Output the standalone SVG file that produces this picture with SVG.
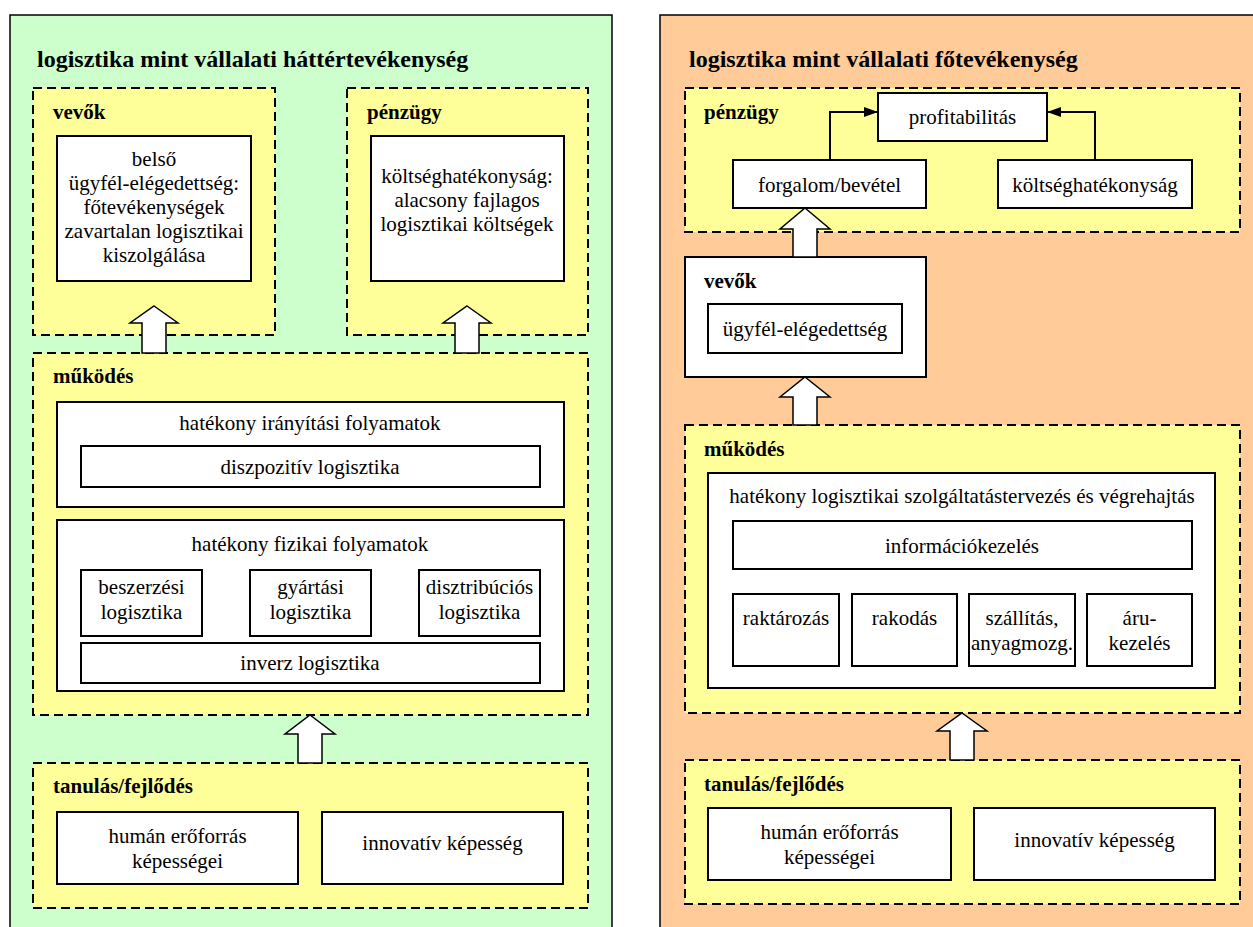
<svg xmlns="http://www.w3.org/2000/svg" width="1253" height="927" viewBox="0 0 1253 927" font-family="'Liberation Serif','Times New Roman',serif">
<style>
text{font-family:"Liberation Serif","Times New Roman",serif;font-size:21px;fill:#000}
.t{font-weight:bold;font-size:24px}
.h{font-weight:bold;font-size:21px}
.c{text-anchor:middle}
.panelG{fill:#CCFFCC;stroke:#000;stroke-width:1.5}
.panelO{fill:#FFCC99;stroke:#000;stroke-width:1.5}
.dash{fill:#FFFF99;stroke:#000;stroke-width:2;stroke-dasharray:9,5}
.box{fill:#fff;stroke:#000;stroke-width:2}
.barrow{fill:#fff;stroke:#000;stroke-width:1.5}
.line{fill:none;stroke:#000;stroke-width:2}
</style>
<defs>
<marker id="ah" markerWidth="14" markerHeight="10" refX="14" refY="5" orient="auto" markerUnits="userSpaceOnUse">
<path d="M0,0 L14,5 L0,10 Z" fill="#000"/>
</marker>
</defs>

<!-- LEFT PANEL -->
<g id="left-panel">
<rect class="panelG" x="10" y="15" width="602" height="920"/>
<text class="t" x="37" y="67">logisztika mint vállalati háttértevékenység</text>
</g>

<g id="l-vevok">
<rect class="dash" x="33" y="88" width="242" height="247"/>
<text class="h" x="53" y="119">vevők</text>
<rect class="box" x="57" y="136" width="194" height="145"/>
<text class="c" x="154" y="166">belső</text>
<text class="c" x="154" y="190">ügyfél-elégedettség:</text>
<text class="c" x="154" y="214">főtevékenységek</text>
<text class="c" x="154" y="238">zavartalan logisztikai</text>
<text class="c" x="154" y="262">kiszolgálása</text>
</g>

<g id="l-penzugy">
<rect class="dash" x="347" y="88" width="241" height="247"/>
<text class="h" x="367" y="119">pénzügy</text>
<rect class="box" x="371" y="136" width="193" height="145"/>
<text class="c" x="467" y="183">költséghatékonyság:</text>
<text class="c" x="467" y="207">alacsony fajlagos</text>
<text class="c" x="467" y="231">logisztikai költségek</text>
</g>

<g id="l-mukodes">
<rect class="dash" x="33" y="353" width="555" height="362"/>
<text class="h" x="53" y="383">működés</text>
<rect class="box" x="57" y="402" width="507" height="105"/>
<text class="c" x="310" y="430">hatékony irányítási folyamatok</text>
<rect class="box" x="81" y="446" width="459" height="41"/>
<text class="c" x="310" y="474">diszpozitív logisztika</text>
<rect class="box" x="57" y="520" width="507" height="171"/>
<text class="c" x="310" y="551">hatékony fizikai folyamatok</text>
<rect class="box" x="81" y="570" width="121" height="66"/>
<text class="c" x="141.5" y="594">beszerzési</text>
<text class="c" x="141.5" y="619">logisztika</text>
<rect class="box" x="250" y="570" width="121" height="66"/>
<text class="c" x="310.5" y="594">gyártási</text>
<text class="c" x="310.5" y="619">logisztika</text>
<rect class="box" x="419" y="570" width="121" height="66"/>
<text class="c" x="479.5" y="594">disztribúciós</text>
<text class="c" x="479.5" y="619">logisztika</text>
<rect class="box" x="81" y="643" width="459" height="40"/>
<text class="c" x="310" y="670">inverz logisztika</text>
</g>

<g id="l-tanulas">
<rect class="dash" x="33" y="763" width="555" height="145"/>
<text class="h" x="53" y="793">tanulás/fejlődés</text>
<rect class="box" x="57" y="812" width="241" height="72"/>
<text class="c" x="177.5" y="843">humán erőforrás</text>
<text class="c" x="177.5" y="868">képességei</text>
<rect class="box" x="322" y="812" width="241" height="72"/>
<text class="c" x="442.5" y="850">innovatív képesség</text>
</g>

<!-- RIGHT PANEL -->
<g id="right-panel">
<rect class="panelO" x="660" y="15" width="610" height="920"/>
<text class="t" x="689" y="67">logisztika mint vállalati főtevékenység</text>
</g>

<g id="r-penzugy">
<rect class="dash" x="685" y="88" width="555" height="144"/>
<text class="h" x="704" y="119">pénzügy</text>
</g>
<g id="r-profit">
<rect class="box" x="878" y="93" width="169" height="48"/>
<text class="c" x="962.5" y="124">profitabilitás</text>
</g>
<g id="r-forgalom">
<rect class="box" x="733" y="160" width="193" height="48"/>
<text class="c" x="829.5" y="192">forgalom/bevétel</text>
</g>
<g id="r-koltseg">
<rect class="box" x="998" y="160" width="194" height="48"/>
<text class="c" x="1095" y="192">költséghatékonyság</text>
</g>

<g id="r-vevok">
<rect class="box" x="685" y="257" width="241" height="120"/>
<text class="h" x="704" y="288">vevők</text>
<rect class="box" x="708" y="304" width="194" height="49"/>
<text class="c" x="805" y="336">ügyfél-elégedettség</text>
</g>

<g id="r-mukodes">
<rect class="dash" x="685" y="425" width="555" height="288"/>
<text class="h" x="704" y="456">működés</text>
<rect class="box" x="708" y="473" width="507" height="215"/>
<text class="c" x="962" y="503">hatékony logisztikai szolgáltatástervezés és végrehajtás</text>
<rect class="box" x="733" y="521" width="459" height="48"/>
<text class="c" x="962" y="553">információkezelés</text>
<rect class="box" x="733" y="594" width="106" height="72"/>
<text class="c" x="786" y="625">raktározás</text>
<rect class="box" x="852" y="594" width="105" height="72"/>
<text class="c" x="904.5" y="625">rakodás</text>
<rect class="box" x="969" y="594" width="106" height="72"/>
<text class="c" x="1022" y="625">szállítás,</text>
<text class="c" x="1022" y="650">anyagmozg.</text>
<rect class="box" x="1087" y="594" width="105" height="72"/>
<text class="c" x="1139.5" y="625">áru-</text>
<text class="c" x="1139.5" y="650">kezelés</text>
</g>

<g id="r-tanulas">
<rect class="dash" x="685" y="760" width="555" height="144"/>
<text class="h" x="704" y="791">tanulás/fejlődés</text>
<rect class="box" x="708" y="808" width="243" height="72"/>
<text class="c" x="829.5" y="839">humán erőforrás</text>
<text class="c" x="829.5" y="864">képességei</text>
<rect class="box" x="974" y="808" width="241" height="72"/>
<text class="c" x="1094.5" y="847">innovatív képesség</text>
</g>

<g id="connectors">
<polygon class="barrow" points="154,306 178,323 166,323 166,353 142,353 142,323 130,323"/>
<polygon class="barrow" points="467,306 491,323 479,323 479,353 455,353 455,323 443,323"/>
<polygon class="barrow" points="310,715 335,734 322,734 322,763 298,763 298,734 285,734"/>
<polygon class="barrow" points="805,208 830,229 817,229 817,257 793,257 793,229 780,229"/>
<polygon class="barrow" points="805,377 830,397 817,397 817,425 793,425 793,397 780,397"/>
<polygon class="barrow" points="962,713 987,731 974,731 974,760 950,760 950,731 937,731"/>
<polyline class="line" points="830,160 830,112 878,112" marker-end="url(#ah)"/>
<polyline class="line" points="1095,160 1095,112 1047,112" marker-end="url(#ah)"/>
</g>
</svg>
